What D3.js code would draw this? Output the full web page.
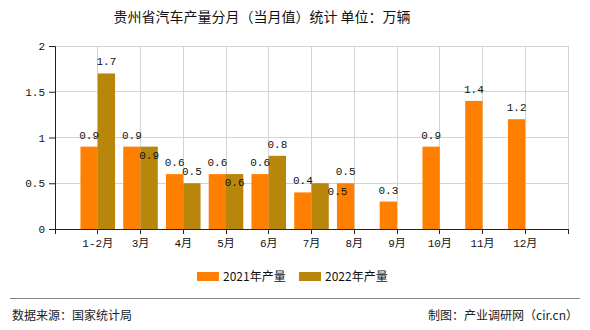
<!DOCTYPE html>
<html><head><meta charset="utf-8">
<script src="https://cdn.jsdelivr.net/npm/d3@7"></script>
<style>
html,body{margin:0;padding:0;background:#fff;}
svg{display:block;}
</style></head>
<body>
<svg id="chart" width="590" height="330"></svg>
<script>
const categories = ["1-2月","3月","4月","5月","6月","7月","8月","9月","10月","11月","12月"];
const series2021 = [0.9,0.9,0.6,0.6,0.6,0.4,0.5,0.3,0.9,1.4,1.2];
const series2022 = [1.7,0.9,0.5,0.6,0.8,0.5,null,null,null,null,null];
const seriesNames = ["2021年产量","2022年产量"];
const yTicks = [0,0.5,1,1.5,2];
const titleText = "贵州省汽车产量分月（当月值）统计 单位：万辆";
const sourceText = "数据来源：国家统计局";
const creditText = "制图：产业调研网（cir.cn）";

const colors = ["#FF8000","#B8860B"];
const svg = d3.select("#chart");
const L = 55, R = 568, T = 46, B = 229;
const cjk = "'Noto Sans CJK SC','Liberation Sans',sans-serif";
const mono = "'Liberation Mono','DejaVu Sans Mono','Noto Sans CJK SC',monospace";

const x = d3.scalePoint().domain(categories).range([L,R]).padding(1);
const y = d3.scaleLinear().domain([0,2]).range([B,T]);
const bw = 17.3;

// title
svg.append("text").attr("x",262).attr("y",22).attr("text-anchor","middle")
  .style("font-family",cjk).style("font-size","14px").attr("fill","#111").text(titleText);

// horizontal grid
svg.append("g").selectAll("line").data(yTicks.filter(d=>d>0)).join("line")
  .attr("x1",L).attr("x2",R).attr("y1",d=>y(d)).attr("y2",d=>y(d))
  .attr("stroke","#d3d3d3").attr("stroke-width",1).attr("shape-rendering","crispEdges");
// vertical grid
const vpos = categories.map(c=>x(c)).concat([R]);
svg.append("g").selectAll("line").data(vpos).join("line")
  .attr("x1",d=>d).attr("x2",d=>d).attr("y1",T).attr("y2",B)
  .attr("stroke","#d3d3d3").attr("stroke-width",1).attr("shape-rendering","crispEdges");

// bars
const allSeries = [series2021, series2022];
allSeries.forEach((s,si)=>{
  svg.append("g").selectAll("rect").data(s.map((v,i)=>({v,i})).filter(d=>d.v!=null)).join("rect")
    .attr("x",d=>x(categories[d.i]) + (si===0 ? -bw : 0))
    .attr("width",bw)
    .attr("y",d=>y(d.v)).attr("height",d=>B-y(d.v))
    .attr("fill",colors[si]);
});

// axes
const yAxis = d3.axisLeft(y).tickValues(yTicks).tickSize(6).tickPadding(4).tickFormat(d=>String(d));
const gy = svg.append("g").attr("transform",`translate(${L},0)`).call(yAxis);
gy.select(".domain").attr("stroke","#222");
gy.selectAll(".tick line").attr("stroke","#222");
gy.selectAll("text").style("font-family",mono).style("font-size","11px").attr("fill","#111");

svg.append("line").attr("x1",L).attr("x2",R).attr("y1",B).attr("y2",B).attr("stroke","#222").attr("shape-rendering","crispEdges");
svg.append("g").selectAll("line").data([L].concat(vpos)).join("line")
  .attr("x1",d=>d).attr("x2",d=>d).attr("y1",B).attr("y2",B+5).attr("stroke","#222").attr("shape-rendering","crispEdges");
svg.append("g").selectAll("text").data(categories).join("text")
  .attr("x",d=>x(d)).attr("y",B+18).attr("text-anchor","middle")
  .style("font-family",mono).style("font-size","11px").attr("fill","#111").text(d=>d);

// data labels
function lbl(xp,yp,t){
  svg.append("text").attr("x",xp).attr("y",yp).attr("text-anchor","middle")
    .style("font-family",mono).style("font-size","11px").attr("fill","#111").text(t);
}
series2021.forEach((v,i)=>{ if(v!=null) lbl(x(categories[i])-bw/2, y(v)-8, v); });
series2022.forEach((v,i)=>{
  if(v==null) return;
  const cx = x(categories[i])+bw/2;
  const other = series2021[i];
  // collision with the neighbouring label: move inside the bar
  const collide = other!=null && v>=other && (y(other)-y(v)) < 12;
  if(collide){
    const shift = (v>other) ? bw : 0;
    lbl(cx+shift, y(v)+12, v);
  } else lbl(cx, y(v)-8, v);
});

// legend
const lg = svg.append("g");
seriesNames.forEach((n,i)=>{
  const lx = 197 + i*102;
  lg.append("rect").attr("x",lx).attr("y",272).attr("width",22).attr("height",9).attr("fill",colors[i]);
  lg.append("text").attr("x",lx+26).attr("y",281).style("font-family",cjk).style("font-size","12px").attr("fill","#111").text(n);
});

// footer
svg.append("line").attr("x1",10).attr("x2",580).attr("y1",298.5).attr("y2",298.5).attr("stroke","#888");
svg.append("text").attr("x",12).attr("y",320).style("font-family",cjk).style("font-size","12px").attr("fill","#222").text(sourceText);
svg.append("text").attr("x",578).attr("y",320).attr("text-anchor","end").style("font-family",cjk).style("font-size","12px").attr("fill","#222").text(creditText);
</script>
</body></html>
